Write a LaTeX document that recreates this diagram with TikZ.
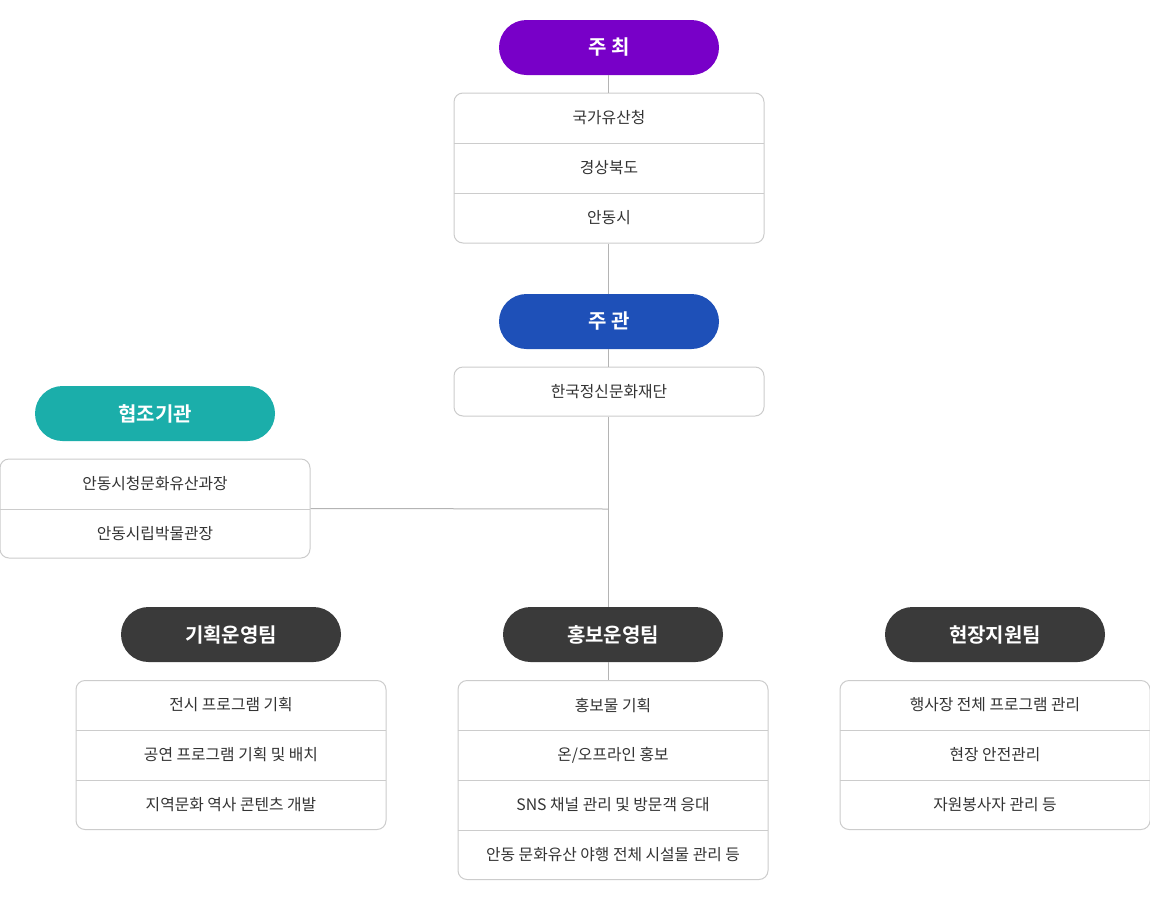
\documentclass[tikz,border=0pt]{standalone}
\usepackage{fontspec}
\setmainfont{Noto Sans CJK KR}[BoldFont={Noto Sans CJK KR Bold}]
\definecolor{cpurple}{HTML}{7800C8}
\definecolor{cblue}{HTML}{1E50B8}
\definecolor{cteal}{HTML}{1BAEAA}
\definecolor{cdark}{HTML}{3A3A3A}
\definecolor{cborder}{HTML}{CCCCCC}
\definecolor{cline}{HTML}{B4B4B4}
\definecolor{ctext}{HTML}{333333}
\begin{document}
\begin{tikzpicture}[x=1pt,y=-1pt,
  pill/.style={rounded corners=27.5pt, minimum width=220pt, minimum height=55pt, inner sep=0pt,
    text=white, font=\fontsize{20}{23}\selectfont\bfseries},
  container/.style={draw=cborder, line width=1pt, rounded corners=9pt, fill=white,
    minimum width=310pt, inner sep=0pt},
  row/.style={minimum width=310pt, minimum height=50pt, inner sep=0pt,
    text=ctext, font=\fontsize{15.8}{18}\selectfont},
  sep/.style={draw=cborder, line width=1pt},
  conn/.style={draw=cline, line width=1pt}]
\useasboundingbox (0,0) rectangle (1150,900);
\fill[white] (0,0) rectangle (1150,900);

% 주최
\node[pill, fill=cpurple] (host) at (609,47.5) {주 최};
\node[container, minimum height=150pt] (hostbox) at (609,168) {};
\node[row] (h1) at (609,118) {국가유산청};
\node[row] (h2) at (609,168) {경상북도};
\node[row] (h3) at (609,218) {안동시};
\draw[sep] (h1.south west) -- (h1.south east);
\draw[sep] (h2.south west) -- (h2.south east);

% 주관
\node[pill, fill=cblue] (org) at (609,321.5) {주 관};
\node[container, minimum height=49pt] (orgbox) at (609,391.5) {};
\node[row] (o1) at (609,391.5) {한국정신문화재단};

% 협조기관
\node[pill, fill=cteal, minimum width=240pt] (coop) at (155,413.5) {협조기관};
\node[container, minimum height=99pt] (coopbox) at (155,508.5) {};
\node[row] (c1) at (155,484) {안동시청문화유산과장};
\node[row] (c2) at (155,534) {안동시립박물관장};
\draw[sep] (c1.south west) -- (c1.south east);

% teams
\node[pill, fill=cdark] (t1) at (231,634.5) {기획운영팀};
\node[pill, fill=cdark] (t2) at (613,634.5) {홍보운영팀};
\node[pill, fill=cdark] (t3) at (995,634.5) {현장지원팀};

\node[container, minimum height=149pt] (t1box) at (231,755) {};
\node[row] (a1) at (231,705) {전시 프로그램 기획};
\node[row] (a2) at (231,755) {공연 프로그램 기획 및 배치};
\node[row] (a3) at (231,805) {지역문화 역사 콘텐츠 개발};
\draw[sep] (a1.south west) -- (a1.south east);
\draw[sep] (a2.south west) -- (a2.south east);

\node[container, minimum height=199pt] (t2box) at (613,780) {};
\node[row] (b1) at (613,705) {홍보물 기획};
\node[row] (b2) at (613,755) {온/오프라인 홍보};
\node[row] (b3) at (613,805) {SNS 채널 관리 및 방문객 응대};
\node[row] (b4) at (613,855) {안동 문화유산 야행 전체 시설물 관리 등};
\draw[sep] (b1.south west) -- (b1.south east);
\draw[sep] (b2.south west) -- (b2.south east);
\draw[sep] (b3.south west) -- (b3.south east);

\node[container, minimum height=149pt] (t3box) at (995,755) {};
\node[row] (d1) at (995,705) {행사장 전체 프로그램 관리};
\node[row] (d2) at (995,755) {현장 안전관리};
\node[row] (d3) at (995,805) {자원봉사자 관리 등};
\draw[sep] (d1.south west) -- (d1.south east);
\draw[sep] (d2.south west) -- (d2.south east);

% connectors
\coordinate (trunk) at (608.5,509);
\draw[conn] ([xshift=-0.5pt]host.south) -- ([xshift=-0.5pt]hostbox.north);
\draw[conn] ([xshift=-0.5pt]hostbox.south) -- ([xshift=-0.5pt]org.north);
\draw[conn] ([xshift=-0.5pt]org.south) -- ([xshift=-0.5pt]orgbox.north);
\draw[conn] ([xshift=-0.5pt]orgbox.south) -- (trunk |- t2.north);
\draw[conn] (coopbox.east) -- (trunk);
\draw[conn] (trunk |- t2.south) -- (trunk |- t2box.north);
\end{tikzpicture}
\end{document}
